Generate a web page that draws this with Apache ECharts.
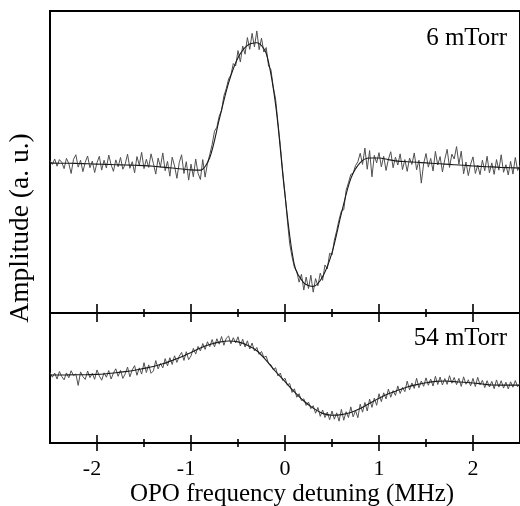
<!DOCTYPE html>
<html>
<head>
<meta charset="utf-8">
<script src="https://cdn.jsdelivr.net/npm/echarts@6/dist/echarts.min.js"></script>
<style>html,body{margin:0;padding:0;background:#fff;}#c{width:520px;height:506px;}</style>
</head>
<body>
<div id="c"></div>
<script>
// ---- data ----
const X_START = -2.5;
const NOISE_STEP = 0.025;
const FIT_STEP = 0.1;
const majorTicks = [-2, -1, 0, 1, 2];
const minorTicks = [-1.5, -0.5, 0.5, 1.5];
const panelLabels = ['6 mTorr', '54 mTorr'];
const xTitle = 'OPO frequency detuning (MHz)';
const yTitle = 'Amplitude (a. u.)';

// 6 mTorr: fitted curve (every 0.1 MHz from -2.5)
const topFit = [49.7,49.6,49.6,49.5,49.4,49.3,49.2,49.1,49.0,48.9,48.8,48.6,48.3,48.0,47.7,47.4,47.3,51.5,64,76.2,84.5,88.6,89.5,86,69,39,15.9,10,8.8,12,20,33,44.5,49.8,51.3,51.3,50.8,50.3,50.1,49.9,49.7,49.5,49.3,49.1,48.9,48.7,48.5,48.4,48.2,48.1,48.0];
// 6 mTorr: measured trace (every 0.025 MHz from -2.5)
const topData = [
50.5,49.2,51.0,48.6, 50.8,49.9,47.8,51.2, 49.5,46.2,50.9,52.4, 48.3,50.6,46.8,49.9, 52.0,48.1,50.3,46.5,
49.8,51.9,47.3,50.6, 48.0,52.3,49.1,46.9, 50.7,48.4,51.5,47.6, 49.3,52.6,47.9,50.1, 46.4,51.8,49.0,53.2,
47.8,50.9,48.2,52.7, 49.5,46.0,51.3,48.4, 53.0,47.1,50.2,45.3, 51.6,48.7,44.6,49.8, 52.4,46.2,50.1,44.0,
49.3,45.1,51.0,46.3, 44.2,50.8,45.0,49.5, 52.5,55.8,60.2,61.5, 65.2,67.1,71.9,74.3, 77.5,78.9,82.6,81.8,
86.9,83.1,88.4,85.7, 91.2,87.3,92.6,88.1, 93.4,87.2,91.0,86.4, 87.9,81.8,80.6,74.9, 70.8,63.1,55.5,47.0,
39.5,30.8,22.9,18.6, 15.1,13.7,10.2,12.8, 7.6,11.9,8.1,12.5, 6.9,11.4,9.0,13.2, 10.8,15.9,14.6,19.8,
19.2,24.1,27.3,30.9, 33.8,34.2,40.6,43.1, 45.9,46.3,48.8,50.1, 52.9,49.2,54.6,47.6, 53.8,45.1,52.2,49.7,
53.1,48.4,51.9,47.2, 50.9,53.4,48.1,51.6, 49.0,52.7,47.5,50.8, 46.9,51.3,49.2,53.0, 47.4,50.6,43.0,49.5,
52.8,48.3,51.2,47.0, 53.5,49.0,51.8,46.7, 50.9,54.2,48.2,52.6, 51.0,55.1,49.3,53.6, 46.1,50.0,45.5,49.3,
51.7,46.2,48.9,45.8, 50.6,47.1,51.9,46.4, 49.7,45.9,50.8,47.3, 52.4,46.6,49.1,45.7, 50.2,46.0,51.5,47.2,
49.0];

// 54 mTorr: fitted curve (every 0.1 MHz from -2.5)
const bottomFit = [52.3,52.3,52.4,52.5,52.6,52.8,53.3,54.0,54.9,56.0,57.4,58.8,60.9,63.5,66.3,69.6,73.1,75.8,77.6,78.5,77.8,75.2,71.0,63.5,55.0,47.2,39.3,32.3,26.8,22.8,21.4,21.8,23.5,26.5,30.5,34.5,37.8,40.5,43.1,44.9,46.3,47.4,47.7,47.2,46.7,46.2,45.4,44.6,44.5,44.5,44.5];
// 54 mTorr: measured trace (every 0.025 MHz from -2.5)
const bottomData = [
54.1,50.6,53.8,49.2, 55.0,51.1,48.6,53.9, 50.2,55.6,51.8,53.1, 44.3,54.7,51.0,48.9, 55.4,50.3,53.6,49.0,
56.2,51.5,48.3,54.0, 50.6,55.7,49.2,53.8, 57.1,51.3,55.9,49.7, 53.2,58.4,50.9,56.3, 59.5,52.1,57.8,53.0,
61.8,54.2,60.1,53.6, 55.5,63.4,57.0,61.2, 57.8,64.9,59.3,65.6, 60.4,67.1,62.0,66.8, 69.7,63.5,70.2,64.1,
67.0,72.8,68.4,74.3, 70.8,76.5,72.0,77.9, 74.1,79.6,73.9,80.2, 76.0,81.9,75.2,80.6, 82.3,76.4,81.0,77.1,
81.7,74.6,79.9,73.8, 78.6,72.3,76.9,70.8, 73.5,68.2,70.4,65.9, 66.8,61.0,60.2,56.3, 57.9,51.6,53.8,48.1,
49.9,44.6,45.8,38.9, 41.7,35.2,37.9,32.6, 34.0,28.9,31.5,26.4, 28.7,22.9,27.3,20.5, 25.4,19.6,23.8,17.9,
24.6,18.3,23.2,16.8, 25.9,17.5,24.1,19.6, 27.8,20.1,25.0,19.4, 29.9,23.7,31.2,24.6, 33.8,27.4,34.6,29.0,
37.9,31.8,38.6,33.9, 41.5,35.2,40.3,36.6, 43.9,38.1,42.7,39.5, 47.6,40.9,46.2,42.0, 49.8,42.5,47.7,43.6,
50.1,44.4,49.2,43.8, 51.3,45.0,50.7,44.6, 49.6,45.1,51.8,46.0, 50.4,44.9,49.7,43.5, 50.9,45.2,48.6,44.0,
49.7,43.4,50.5,44.8, 48.2,42.6,47.9,43.1, 47.4,41.8,48.5,43.0, 47.9,42.2,46.8,41.6, 47.1,42.9,48.0,43.3,
45.8];

// ---- chart ----
const FONT = '"Liberation Serif", "DejaVu Serif", serif';
function pairs(arr, step) {
  return arr.map((v, i) => [+(X_START + i * step).toFixed(4), v]);
}
function xAx(grid, ticks, inside, len, labels) {
  return {
    type: 'value', gridIndex: grid, min: -2.5, max: 2.5, position: 'bottom',
    axisLine: { show: true, onZero: false, lineStyle: { color: '#000', width: 2 } },
    axisTick: { show: true, inside: inside, length: len, customValues: ticks,
                lineStyle: { color: '#000', width: 1.6 } },
    axisLabel: labels ? {
      show: true, customValues: ticks, margin: 15, color: '#000',
      fontFamily: FONT, fontSize: 22,
      formatter: v => v < 0 ? '{n|' + v + '}' : '{p|' + v + '}',
      rich: { n: { fontFamily: FONT, fontSize: 22, color: '#000', padding: [0, 10, 0, 0] },
              p: { fontFamily: FONT, fontSize: 22, color: '#000' } }
    } : { show: false },
    splitLine: { show: false }
  };
}
const grids = [
  { left: 50, top: 11, width: 472, height: 302, show: true, borderColor: '#000', borderWidth: 2 },
  { left: 50, top: 313, width: 472, height: 130, show: true, borderColor: '#000', borderWidth: 2 }
];
const xAxes = [
  xAx(0, majorTicks, true, 9, false), xAx(0, majorTicks, false, 9, false),
  xAx(0, minorTicks, true, 4, false), xAx(0, minorTicks, false, 4, false),
  xAx(1, majorTicks, true, 8, false), xAx(1, majorTicks, false, 8, true),
  xAx(1, minorTicks, true, 4, false), xAx(1, minorTicks, false, 4, false)
];
const yAxes = [
  { type: 'value', gridIndex: 0, min: 0, max: 100, show: false },
  { type: 'value', gridIndex: 1, min: 0, max: 100, show: false }
];
function line(data, xi, yi, color, width, smooth) {
  return { type: 'line', data: data, xAxisIndex: xi, yAxisIndex: yi, showSymbol: false,
           symbol: 'none', smooth: smooth, lineStyle: { color: color, width: width }, silent: true, z: 3 };
}
const option = {
  animation: false,
  backgroundColor: '#fff',
  grid: grids,
  xAxis: xAxes,
  yAxis: yAxes,
  series: [
    line(pairs(topData, NOISE_STEP), 0, 0, '#505050', 1, false),
    line(pairs(topFit, FIT_STEP), 0, 0, '#1a1a1a', 1.1, 0.3),
    line(pairs(bottomData, NOISE_STEP), 4, 1, '#505050', 1, false),
    line(pairs(bottomFit, FIT_STEP), 4, 1, '#1a1a1a', 1.1, 0.3)
  ],
  graphic: [
    { type: 'text', right: 13, top: 26, style: { text: panelLabels[0], font: '25px ' + FONT, fill: '#000' } },
    { type: 'text', right: 13, top: 326, style: { text: panelLabels[1], font: '25px ' + FONT, fill: '#000' } },
    { type: 'text', x: 292, y: 494, style: { text: xTitle, font: '25px ' + FONT, fill: '#000',
        align: 'center', verticalAlign: 'middle' } },
    { type: 'text', x: 21, y: 228, rotation: Math.PI / 2, style: { text: yTitle, font: '27.5px ' + FONT,
        fill: '#000', align: 'center', verticalAlign: 'middle' } }
  ]
};
const chart = echarts.init(document.getElementById('c'), null, { renderer: 'canvas' });
chart.setOption(option);
</script>
</body>
</html>
